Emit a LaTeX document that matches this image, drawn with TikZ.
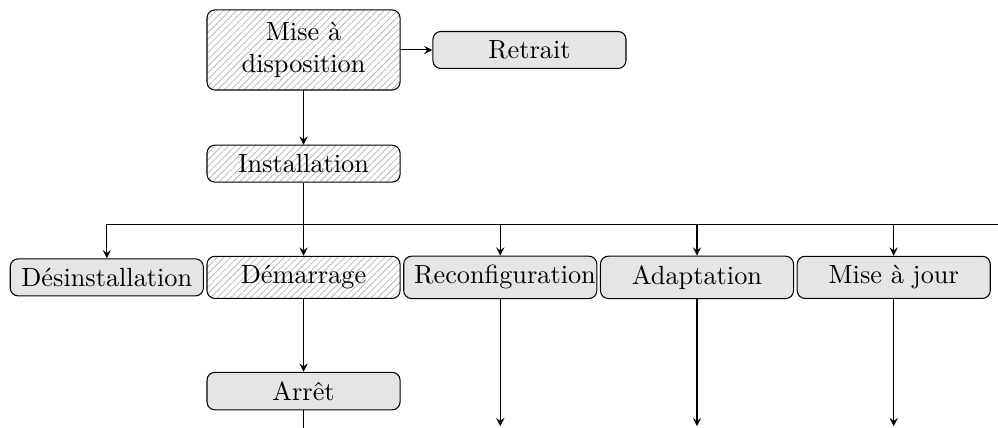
\documentclass[tikz,border=0pt]{standalone}
\usetikzlibrary{positioning,patterns.meta}

\begin{document}
\begin{tikzpicture}[>=stealth,node distance=1.52cm,on grid,
				activity/.style={rectangle, rounded corners=3pt, draw, text width=2.3cm, align=center, inner xsep=4pt, inner ysep=3.5pt},
				done/.style={activity, pattern={Lines[angle=45,distance=1.8pt,line width=0.3pt]}, pattern color=gray!55},
				todo/.style={activity, fill=gray!20}
			]
			\useasboundingbox (-4.058,-5.053) rectangle (9.284,0.668);
			
			\node[done,minimum height=1.07cm] (dispo) [] {Mise à disposition};
			\node[todo] (retrait) [right=3.02cm of dispo] {Retrait};
			\node[done] (inst) [below=of dispo] {Installation};
			
			\node[done] (demarr) [below=of inst] {Démarrage};
			\node[todo] (desinst) [left=2.63cm of demarr] {Désinstallation};
			\node[todo] (reconf) [right=2.63cm of demarr] {Reconfiguration};
			\node[todo] (adapt) [right=2.63cm of reconf] {Adaptation};
			\node[todo] (maj) [right=2.63cm of adapt] {Mise à jour};
			
			\node[todo] (arret) [below=of demarr] {Arrêt};
			
			\coordinate[below=0.81cm of inst] (bus);
			\coordinate[right=9.3cm of bus] (bus_end);
			\coordinate[below=1.99cm of reconf] (out_reconf);
			\coordinate[below=1.99cm of adapt] (out_adapt);
			\coordinate[below=1.99cm of maj] (out_maj);
			\coordinate[below=0.6cm of arret] (out_arret);
			
			\draw[->] (dispo) -- (retrait);
			\draw[->] (dispo) -- (inst);
			\draw[->] (inst) -- (demarr);
			
			\draw[->] (bus_end) -- (bus -| desinst) -- (desinst);
			\draw[->] (bus -| reconf) -- (reconf);
			\draw[->] (bus -| adapt) -- (adapt);
			\draw[->] (bus -| maj) -- (maj);
			
			\draw[->] (demarr) -- (arret);
			\draw (arret) -- (out_arret);
			
			\draw[->] (reconf) -- (out_reconf);
			\draw[->] (adapt) -- (out_adapt);
			\draw[->] (maj) -- (out_maj);
		\end{tikzpicture}
\end{document}
